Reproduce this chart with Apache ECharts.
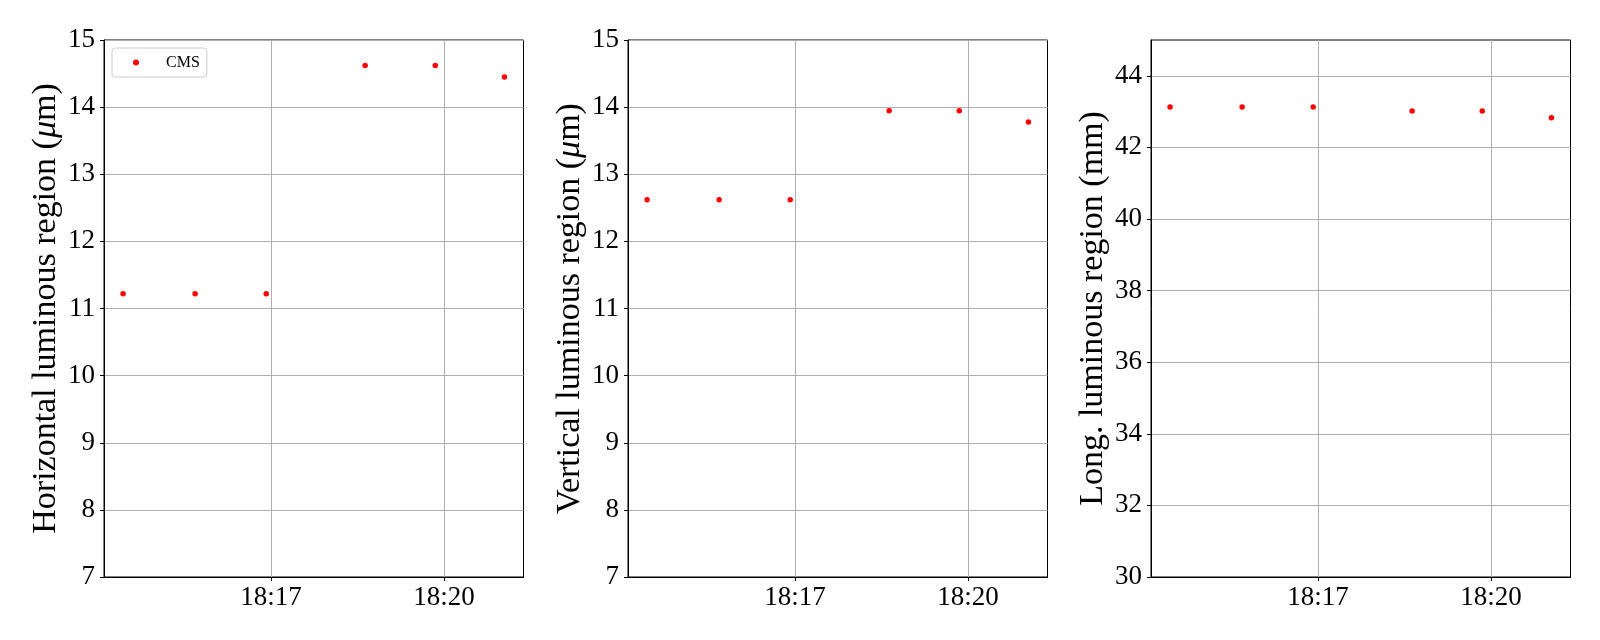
<!DOCTYPE html>
<html>
<head>
<meta charset="utf-8">
<script src="https://cdn.jsdelivr.net/npm/echarts@6/dist/echarts.min.js"></script>
<style>html,body{margin:0;padding:0;background:#fff}#c{width:1600px;height:640px}</style>
</head>
<body>
<div id="c"></div>
<script>
// ---- data ----
const times = ["18:14:26", "18:15:41", "18:16:55", "18:18:38", "18:19:51", "18:21:03"];
const horizontal = [11.22, 11.22, 11.22, 14.62, 14.62, 14.45];   // µm
const vertical   = [12.62, 12.62, 12.62, 13.945, 13.945, 13.78]; // µm
const longitudinal = [43.13, 43.13, 43.13, 43.02, 43.02, 42.83]; // mm
const xTickLabels = ["18:17", "18:20"];
const yTicksTransverse = [7, 8, 9, 10, 11, 12, 13, 14, 15];
const yTicksLong = [30, 32, 34, 36, 38, 40, 42, 44];
const seriesName = "CMS";

// ---- helpers ----
function toSec(s) { const p = s.split(":").map(Number); return p[0]*3600 + p[1]*60 + (p[2]||0); }
function fmt(v) { const h = Math.floor(v/3600), m = Math.round((v - h*3600)/60); return h + ":" + String(m).padStart(2, "0"); }
const xs = times.map(toSec);
const xTicks = xTickLabels.map(toSec);
const FONT = "Liberation Serif";

const grids = [
  {left: 104, top: 40, width: 419.5, height: 537},
  {left: 628, top: 40, width: 419.5, height: 537},
  {left: 1151, top: 40, width: 419.5, height: 537}
].map(g => Object.assign(g, {show: true, borderColor: "#000", borderWidth: 1, backgroundColor: "#fff"}));

const xAxes = [0,1,2].map(i => ({
  type: "value", gridIndex: i,
  min: v => v.min - (v.max - v.min) * 0.05,
  max: v => v.max + (v.max - v.min) * 0.05,
  axisLine: {show: true, onZero: false, lineStyle: {color: "#000", width: 1}},
  axisTick: {show: true, customValues: xTicks, length: 4, lineStyle: {color: "#000", width: 1}},
  axisLabel: {customValues: xTicks, formatter: fmt, color: "#000", fontFamily: FONT, fontSize: 27, margin: 7},
  splitLine: {show: true, lineStyle: {color: "#b0b0b0", width: 1}}
}));

const yNames = [
  "Horizontal luminous region ({i|μ}m)",
  "Vertical luminous region ({i|μ}m)",
  "Long. luminous region (mm)"
];
const yRanges = [[7, 15, yTicksTransverse], [7, 15, yTicksTransverse], [30, 45, yTicksLong]];
const nameGaps = [41, 41, 41];
const yAxes = [0,1,2].map(i => ({
  type: "value", gridIndex: i, min: yRanges[i][0], max: yRanges[i][1],
  name: yNames[i], nameLocation: "middle", nameGap: nameGaps[i], nameRotate: 90,
  nameTextStyle: {fontFamily: FONT, fontSize: 34, color: "#000",
    rich: {i: {fontFamily: FONT, fontSize: 34, fontStyle: "italic", color: "#000"}}},
  axisLine: {show: true, lineStyle: {color: "#000", width: 1}},
  axisTick: {show: true, customValues: yRanges[i][2], length: 4, lineStyle: {color: "#000", width: 1}},
  axisLabel: {customValues: yRanges[i][2], color: "#000", fontFamily: FONT, fontSize: 27, margin: 9},
  splitLine: {show: true, lineStyle: {color: "#b0b0b0", width: 1}}
}));

const values = [horizontal, vertical, longitudinal];
const series = [0,1,2].map(i => ({
  type: "scatter", name: seriesName, xAxisIndex: i, yAxisIndex: i,
  symbol: "circle", symbolSize: 5.5, itemStyle: {color: "#ff0000", opacity: 1},
  data: xs.map((x, k) => [x, values[i][k]]), animation: false
}));

const chart = echarts.init(document.getElementById("c"), null, {renderer: "canvas"});
chart.setOption({
  animation: false,
  backgroundColor: "#fff",
  grid: grids, xAxis: xAxes, yAxis: yAxes, series: series,
  legend: {
    data: [{name: seriesName, icon: "circle"}], left: 112, top: 48,
    itemWidth: 6, itemHeight: 6, itemStyle: {color: "#ff0000", opacity: 1}, padding: [6, 7, 6, 21],
    backgroundColor: "rgba(255,255,255,0.8)", borderColor: "#cccccc", borderWidth: 1, borderRadius: 3,
    textStyle: {fontFamily: FONT, fontSize: 16, color: "#000", padding: [0, 0, 0, 22], lineHeight: 17}
  }
});
</script>
</body>
</html>
